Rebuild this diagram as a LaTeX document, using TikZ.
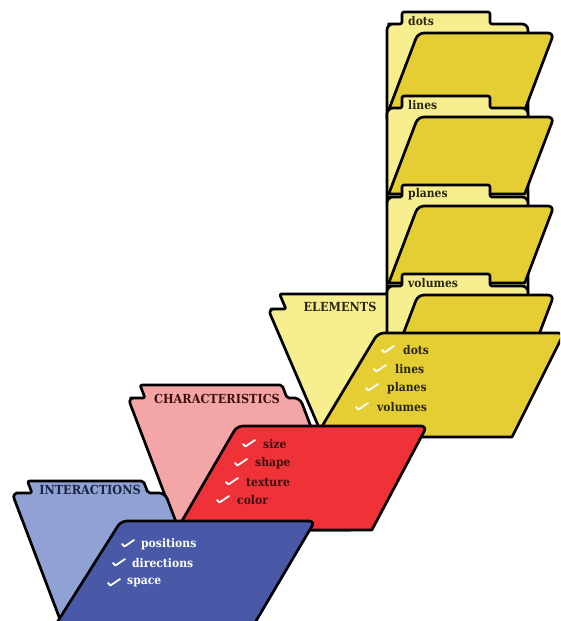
\documentclass[tikz,border=0pt]{standalone}
\usepackage{fontspec}
\setmainfont{DejaVu Serif Condensed}
\definecolor{ylight}{RGB}{247,239,143}
\definecolor{ydark}{RGB}{229,205,52}
\definecolor{pinkb}{RGB}{244,166,166}
\definecolor{redf}{RGB}{238,50,56}
\definecolor{blight}{RGB}{143,162,211}
\definecolor{bdark}{RGB}{73,89,168}
\definecolor{txy}{RGB}{42,38,14}
\definecolor{txr}{RGB}{60,14,14}
\definecolor{txb}{RGB}{28,34,66}
\tikzset{
  outl/.style={draw=black, line width=2.7pt, line join=round},
  lbl/.style={font=\fontsize{12}{12}\selectfont\bfseries, inner sep=0pt},
  tablbl/.style={font=\fontsize{12.5}{12.5}\selectfont\bfseries, inner sep=0pt},
  item/.style={lbl, anchor=west},
  chk/.pic={\draw[white, line width=1.8pt, line cap=round, line join=round] (0,0) -- (2.5,2.5) -- (12,-4);}
}
% back panel: #1 fill, #2 lean, #3 main top y, #4 tab top y, #5 left x, #6 tab left x, #7 tab right x, #8 right x, #9 bottom y
\newcommand{\folderback}[9]{%
  \pgfmathsetmacro\fbh{(#3)-(#4)}%
  \pgfmathsetmacro\fbd{(#9)-(#3)}%
  \pgfmathsetmacro\fbt{#3}%
  \pgfmathsetmacro\fbtt{#4}%
  \pgfmathsetmacro\fbb{#9}%
  \draw[outl, fill=#1] (#5+#2*\fbd,\fbb) [sharp corners] -- (#5+#2*\fbd*0.5,\fbt+\fbd*0.5)
    [rounded corners=6pt] -- (#5,\fbt) -- ({(#5+#6)/2},\fbt)
    [rounded corners=2pt] -- (#6,\fbt) -- (#6-#2*\fbh,\fbtt) -- (#7-#2*\fbh,\fbtt) -- (#7,\fbt) -- ({(#7+#8)/2},\fbt)
    [rounded corners=6pt] -- (#8,\fbt) -- (#8+#2*\fbd*0.5,\fbt+\fbd*0.5)
    [sharp corners] -- (#8+#2*\fbd,\fbb) -- cycle;}
% front panel: #1 fill, #2 top y, #3 left x, #4 right x, #5 left slope, #6 right slope, #7 bottom y
\newcommand{\folderfront}[7]{%
  \pgfmathsetmacro\ffd{(#7)-(#2)}%
  \pgfmathsetmacro\fft{#2}%
  \pgfmathsetmacro\ffb{#7}%
  \draw[outl, fill=#1] (#4-#6*\ffd,\ffb) [sharp corners] -- (#4-#6*\ffd*0.5,\fft+\ffd*0.5)
    [rounded corners=6pt] -- (#4,\fft) -- (#3,\fft) -- (#3-#5*\ffd*0.5,\fft+\ffd*0.5)
    [sharp corners] -- (#3-#5*\ffd,\ffb) -- cycle;}
\begin{document}
\begin{tikzpicture}[x=1pt, y=-1pt]
\useasboundingbox (0,0) rectangle (560,621);
\clip (0,0) rectangle (560,621);
% ELEMENTS back
\folderback{ylight}{0.43}{309}{294}{268}{286}{400}{420}{430}
% stack of sub-folders
\foreach \o/\t/\n in {0/dots/sdots, 84/lines/slines, 173/planes/splanes, 262/volumes/svolumes}{
  \folderback{ylight}{0}{24+\o}{12+\o}{387}{402}{490}{528}{119+\o}
  \folderfront{ydark}{33+\o}{418}{554}{0.38}{0.38}{110+\o}
  \node[item, text=txy] (\n) at (408,21+\o) {\t};
}
% ELEMENTS front
\folderfront{ydark}{333}{378}{564}{0.6}{0.5}{437}
\node[tablbl, text=txy] (elements) at (340,307) {ELEMENTS};
\foreach \x/\y/\t/\n in {403/350/dots/edots, 395/369/lines/elines, 387/388/planes/eplanes, 377/407/volumes/evolumes}{
  \pic at (\x-21,\y) {chk};
  \node[item, text=txy] (\n) at (\x,\y) {\t};
}
% CHARACTERISTICS
\folderback{pinkb}{0.38}{398}{385}{128}{145}{287}{300}{530}
\folderfront{redf}{426}{237}{427}{0.58}{0.53}{530}
\node[tablbl, text=txr] (characteristics) at (217,399) {CHARACTERISTICS};
\foreach \x/\y/\t/\n in {263/444/size/csize, 255/463/shape/cshape, 246/482/texture/ctexture, 237/500/color/ccolor}{
  \pic at (\x-20,\y) {chk};
  \node[item, text=txr] (\n) at (\x,\y) {\t};
}
% INTERACTIONS
\folderback{blight}{0.38}{493}{481}{12}{32}{148}{165}{640}
\folderfront{bdark}{521}{121}{315}{0.63}{0.59}{640}
\node[tablbl, text=txb] (interactions) at (90,490) {INTERACTIONS};
\foreach \x/\y/\t/\n in {141/544/positions/ipositions, 132/563/directions/idirections, 127/583/space/ispace}{
  \pic at (\x-19,\y) {chk};
  \node[item, text=white] (\n) at (\x,\y) {\t};
}
\end{tikzpicture}
\end{document}
